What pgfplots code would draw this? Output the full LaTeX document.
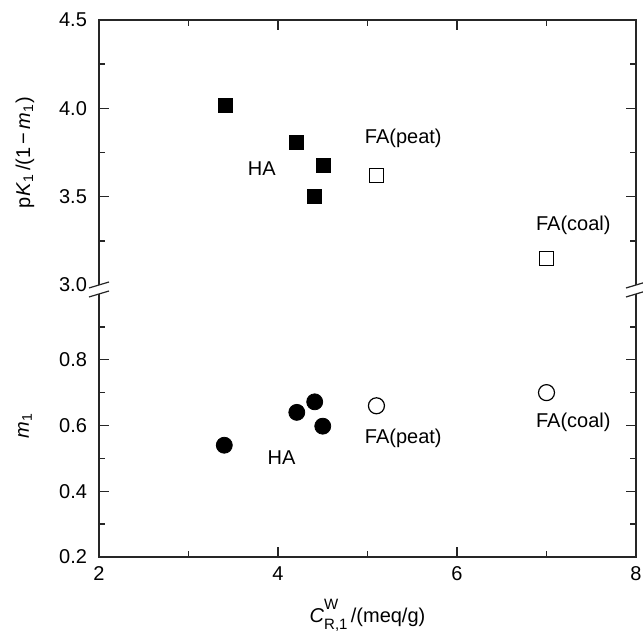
\documentclass[border=0pt]{standalone}
\usepackage{pgfplots}
\pgfplotsset{compat=1.18}
\usepackage{fontspec}
\setmainfont{Liberation Sans}
\tikzset{lab/.style={font=\fontsize{10}{12}\selectfont}}
\begin{document}
\fontsize{10}{12}\selectfont
\begin{tikzpicture}
\path[use as bounding box] (-49.5pt,-37.5pt) rectangle (272pt,278.5pt);
\pgfplotsset{
 common/.style={
  width=268.5pt, scale only axis,
  xmin=2,xmax=8, xtick={2,4,6,8}, minor xtick={3,5,7},
  tick align=inside,
  major tick length=5pt, minor tick length=3pt,
  tick style={line width=0.7pt, color=black!85},
  axis line style={draw=none},
  ticklabel style={font=\fontsize{10}{12}\selectfont},
  /pgf/number format/assume math mode=true,
  yticklabel style={xshift=-2.5pt,/pgf/number format/.cd, fixed, fixed zerofill, precision=1},
  xticklabel style={yshift=-1.2pt},
  ytick pos=both,
  clip=false,
 },
 fillsq/.style={only marks, mark=square*, mark size=3.5pt, mark options={fill=black, draw=black}},
 opensq/.style={only marks, mark=square*, mark size=3.5pt, mark options={fill=white, draw=black, line width=0.6pt}},
 fillci/.style={only marks, mark=*, mark size=4pt, mark options={fill=black, draw=black}},
 openci/.style={only marks, mark=*, mark size=4pt, mark options={fill=white, draw=black, line width=0.6pt}},
}
\begin{axis}[common, at={(0pt,268.5pt)}, anchor=north west, height=132.5pt,
  ymin=3, ymax=4.5, ytick={3.5,4,4.5}, minor ytick={3.25,3.75,4.25},
  extra y ticks={3}, extra y tick style={major tick length=0pt},
  xtick pos=right, xticklabels={},
  ylabel={p\textit{K}\textsubscript{1}\,/(1\,−\,\textit{m}\textsubscript{1})},
  ylabel style={at={(axis description cs:-0.138,0.5)}, anchor=center}]
\addplot[fillsq] coordinates {(3.41,4.016) (4.21,3.806) (4.51,3.675) (4.41,3.50)};
\addplot[opensq] coordinates {(5.10,3.62) (7.00,3.15)};
\node[lab] at (axis cs:3.82,3.66) {HA};
\node[lab] at (axis cs:5.40,3.83) {FA(peat)};
\node[lab] at (axis cs:7.30,3.34) {FA(coal)};
\end{axis}
\begin{axis}[common, at={(0pt,0pt)}, anchor=south west, height=131.5pt,
  ymin=0.2, ymax=1.0, ytick={0.2,0.4,0.6,0.8}, minor ytick={0.3,0.5,0.7,0.9},
  xtick pos=left,
  xlabel={\textit{C}\rlap{\raisebox{1.2ex}{\fontsize{7.5}{8}\selectfont W}}\raisebox{-0.75ex}{\fontsize{7.5}{8}\selectfont R,1}\,/(meq/g)},
  xlabel style={at={(axis description cs:0.5,0)}, anchor=base, yshift=-32.5pt},
  ylabel={\textit{m}\textsubscript{1}},
  ylabel style={at={(axis description cs:-0.138,0.5)}, anchor=center}]
\addplot[fillci] coordinates {(3.40,0.54) (4.21,0.64) (4.41,0.672) (4.50,0.598)};
\addplot[openci] coordinates {(5.10,0.66) (7.00,0.70)};
\node[lab] at (axis cs:4.04,0.503) {HA};
\node[lab] at (axis cs:5.40,0.56) {FA(peat)};
\node[lab] at (axis cs:7.30,0.61) {FA(coal)};
\end{axis}
\draw[line width=0.9pt, black!85] (0pt,136pt) -- (0pt,268.5pt) -- (268.5pt,268.5pt) -- (268.5pt,136pt);
\draw[line width=0.9pt, black!85] (0pt,131.5pt) -- (0pt,0pt) -- (268.5pt,0pt) -- (268.5pt,131.5pt);
\foreach \xx in {0pt,268.5pt}{
  \draw[line width=0.6pt, black!85] ([xshift=-5pt]\xx,134.5pt) -- ([xshift=5pt]\xx,137.5pt);
  \draw[line width=0.6pt, black!85] ([xshift=-5pt]\xx,130pt) -- ([xshift=5pt]\xx,133pt);
}
\end{tikzpicture}
\end{document}
